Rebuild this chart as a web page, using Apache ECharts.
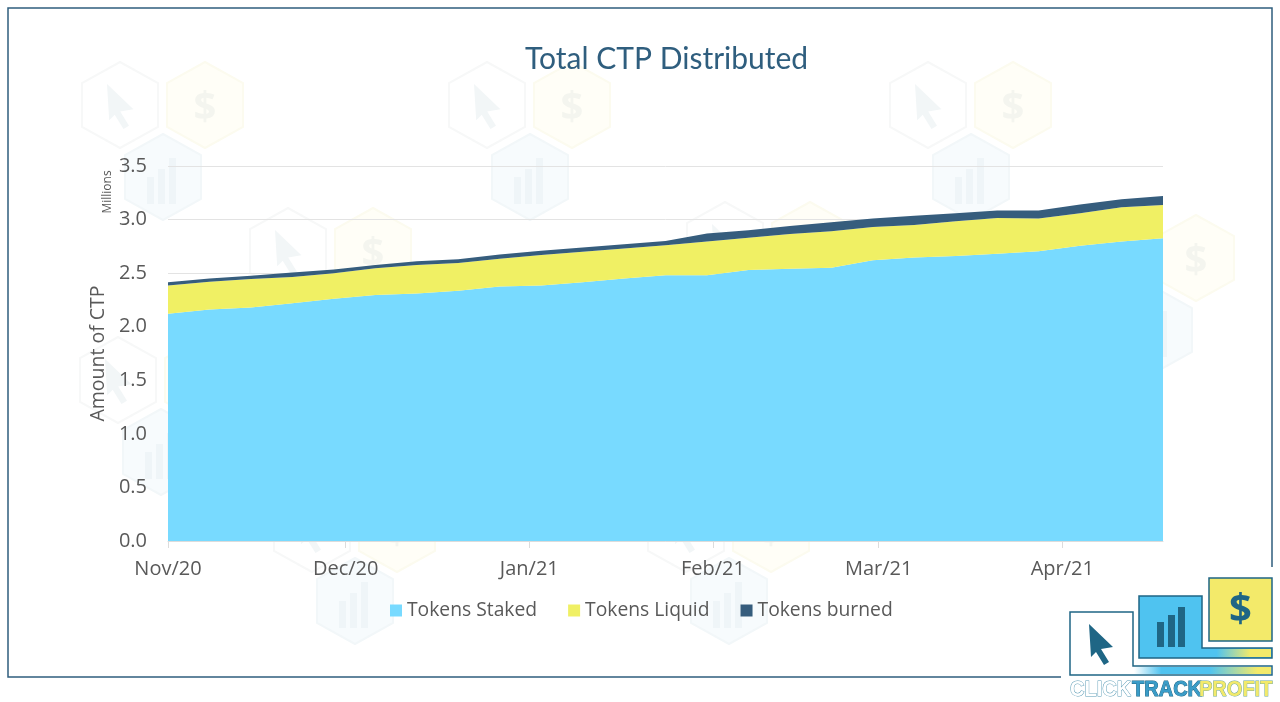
<!DOCTYPE html>
<html>
<head>
<meta charset="utf-8">
<title>Total CTP Distributed</title>
<script src="https://cdn.jsdelivr.net/npm/echarts@6/dist/echarts.min.js"></script>
<style>
  html, body { margin: 0; padding: 0; background: #fff; }
  #main_echarts { width: 1280px; height: 702px; }
</style>
</head>
<body>
<div id="main_echarts"></div>
<script>
// weekly readings, in millions of CTP
var dates = ['2020-11-01', '2020-11-08', '2020-11-15', '2020-11-22', '2020-11-29',
    '2020-12-06', '2020-12-13', '2020-12-20', '2020-12-27', '2021-01-03', '2021-01-10',
    '2021-01-17', '2021-01-24', '2021-01-31', '2021-02-07', '2021-02-14', '2021-02-21',
    '2021-02-28', '2021-03-07', '2021-03-14', '2021-03-21', '2021-03-28', '2021-04-04',
    '2021-04-11', '2021-04-18'];
var staked = [2.12, 2.16, 2.18, 2.22, 2.26, 2.295, 2.31, 2.335, 2.375, 2.385, 2.415, 2.45, 2.48,
    2.48, 2.53, 2.54, 2.55, 2.62, 2.645, 2.66, 2.68, 2.705, 2.755, 2.795, 2.825];
var liquid = [0.265, 0.26, 0.265, 0.245, 0.24, 0.25, 0.265, 0.26, 0.26, 0.285, 0.285, 0.28, 0.28,
    0.315, 0.30, 0.325, 0.34, 0.31, 0.305, 0.325, 0.335, 0.305, 0.305, 0.32, 0.31];
var burned = [0.03, 0.03, 0.03, 0.04, 0.035, 0.03, 0.035, 0.035, 0.04, 0.04, 0.04, 0.04, 0.04,
    0.075, 0.07, 0.075, 0.085, 0.08, 0.085, 0.075, 0.07, 0.075, 0.08, 0.075, 0.085];
var monthTicks = ['2020-11-01', '2020-12-01', '2021-01-01', '2021-02-01', '2021-03-01', '2021-04-01'];

var FONT = '"Open Sans", sans-serif';
var TEAL = '#1f6685';

function toTime(d) {
    var p = d.split('-');
    return new Date(+p[0], +p[1] - 1, +p[2]).getTime();
}
function pairs(values) {
    return values.map(function (v, i) { return [toTime(dates[i]), v]; });
}
function hexPoints(cx, cy) {
    return [[cx, cy - 43], [cx + 38, cy - 22], [cx + 38, cy + 22], [cx, cy + 43], [cx - 38, cy + 22], [cx - 38, cy - 22]];
}
function arrowPoints(x, y, k) {
    return [[0, 0], [24, 23], [12, 25], [20, 38], [15, 41], [7, 28], [2, 33]].map(function (p) {
        return [x + p[0] * k, y + p[1] * k];
    });
}

// faint background logo: cursor, dollar and bars hexagons
function watermark(cx, cy) {
    var out = [];
    out.push({ type: 'polygon', shape: { points: hexPoints(cx, cy) }, style: { fill: '#fff', stroke: '#f7f8f8', lineWidth: 2 } });
    out.push({ type: 'polygon', shape: { points: arrowPoints(cx - 13, cy - 21, 1.1) }, style: { fill: '#f2f6f7' } });
    out.push({ type: 'polygon', shape: { points: hexPoints(cx + 85, cy) }, style: { fill: '#fffef7', stroke: '#fcfbef', lineWidth: 2 } });
    out.push({
        type: 'text', x: cx + 85, y: cy + 4,
        style: { text: '$', font: 'bold 40px ' + FONT, fill: '#f4f5ef', align: 'center', verticalAlign: 'middle' }
    });
    out.push({ type: 'polygon', shape: { points: hexPoints(cx + 43, cy + 72) }, style: { fill: '#f7fbfd', stroke: '#f2f7f9', lineWidth: 2 } });
    [[-16, 0, 7, 27], [-5, -8, 7, 35], [6, -19, 7, 46]].forEach(function (b) {
        out.push({
            type: 'rect',
            shape: { x: cx + 43 + b[0], y: cy + 72 + b[1], width: b[2], height: b[3] },
            style: { fill: '#eff5f8' }
        });
    });
    return out;
}

function logoText(text, x, fill, stroke) {
    return {
        type: 'text', x: x, y: 690,
        scaleX: 0.91,
        style: {
            text: text, font: 'bold 22px "Liberation Sans Narrow", "Liberation Sans", sans-serif',
            fill: fill, stroke: stroke, lineWidth: 1, align: 'left', verticalAlign: 'middle'
        }
    };
}

var bandFill = function (stops) {
    return new echarts.graphic.LinearGradient(0, 0, 1, 0, stops);
};

function logo() {
    var g = [
        { type: 'polygon', shape: { points: [[1070, 612], [1133, 612], [1133, 666], [1272, 666], [1272, 675], [1070, 675]] },
          style: { fill: '#fff', stroke: TEAL, lineWidth: 1.5 } },
        { type: 'rect', shape: { x: 1134, y: 667, width: 137, height: 7 },
          style: { fill: bandFill([{ offset: 0, color: '#fff' }, { offset: 0.2, color: '#4fc3f0' }, { offset: 0.55, color: '#4fc3f0' }, { offset: 0.9, color: '#f3ea6a' }, { offset: 1, color: '#f3ea6a' }]) } },
        { type: 'polygon', shape: { points: [[1139, 596], [1202, 596], [1202, 648], [1272, 648], [1272, 658], [1139, 658]] },
          style: { fill: '#4fc3f0', stroke: TEAL, lineWidth: 1.5 } },
        { type: 'rect', shape: { x: 1203, y: 649, width: 68, height: 8 },
          style: { fill: bandFill([{ offset: 0, color: '#4fc3f0' }, { offset: 0.2, color: '#4fc3f0' }, { offset: 0.7, color: '#f3ea6a' }, { offset: 1, color: '#f3ea6a' }]) } },
        { type: 'rect', shape: { x: 1209, y: 578, width: 63, height: 63 }, style: { fill: '#f3ea6a', stroke: TEAL, lineWidth: 1.5 } },
        { type: 'text', x: 1240.5, y: 611, style: { text: '$', font: 'bold 40px ' + FONT, fill: TEAL, align: 'center', verticalAlign: 'middle' } },
        { type: 'polygon', shape: { points: arrowPoints(1089, 624, 1) }, style: { fill: TEAL } },
        { type: 'rect', shape: { x: 1157, y: 622, width: 7, height: 25 }, style: { fill: TEAL } },
        { type: 'rect', shape: { x: 1168, y: 615, width: 7, height: 32 }, style: { fill: TEAL } },
        { type: 'rect', shape: { x: 1178, y: 607, width: 7, height: 40 }, style: { fill: TEAL } }
    ];
    g.push(logoText('CLICK', 1070, '#fff', '#5a9bb5'));
    g.push(logoText('TRACK', 1132, '#3a9cc8', TEAL));
    g.push(logoText('PROFIT', 1199, '#f3ea6a', '#6fa8a0'));
    return g;
}

var elements = [];
[[120, 105], [487, 105], [928, 105], [288, 251], [725, 245], [1111, 258], [118, 380], [312, 529], [686, 529]].forEach(function (p) {
    elements = elements.concat(watermark(p[0], p[1]));
});
// outer frame
elements.push({
    type: 'polyline',
    shape: { points: [[1272, 567], [1272, 8], [8, 8], [8, 677], [1061, 677]] },
    style: { fill: 'none', stroke: '#2f5e7e', lineWidth: 1.5 }
});
elements = elements.concat(logo());
elements.push({
    type: 'text', x: 108, y: 192, rotation: Math.PI / 2,
    style: { text: 'Millions', font: '12px ' + FONT, fill: '#595959', align: 'center', verticalAlign: 'middle' }
});

function areaSeries(name, values, color) {
    return {
        name: name,
        type: 'line',
        stack: 'total',
        data: pairs(values),
        symbol: 'none',
        smooth: false,
        lineStyle: { width: 0 },
        itemStyle: { color: color },
        areaStyle: { color: color, opacity: 1 },
        animation: false
    };
}

var myChart = echarts.init(document.getElementById('main_echarts'));
myChart.setOption({
    backgroundColor: '#fff',
    animation: false,
    textStyle: { fontFamily: FONT },
    title: {
        text: 'Total CTP Distributed',
        left: 520,
        top: 39,
        textStyle: { color: '#2f5e7e', fontSize: 30, fontWeight: 'normal', fontFamily: 'Lato, sans-serif' }
    },
    graphic: { elements: elements },
    grid: { left: 168, right: 117, top: 166, bottom: 161 },
    legend: {
        left: 385,
        top: 596,
        icon: 'rect',
        itemWidth: 12,
        itemHeight: 12,
        itemGap: 31,
        textStyle: { color: '#595959', fontSize: 19.3, fontFamily: FONT }
    },
    xAxis: {
        type: 'time',
        min: toTime(dates[0]),
        max: toTime(dates[dates.length - 1]),
        axisLine: { lineStyle: { color: '#dcdcdc' } },
        axisTick: { show: true, length: 7, lineStyle: { color: '#dcdcdc' }, customValues: monthTicks.map(toTime) },
        splitLine: { show: false },
        axisLabel: {
            color: '#595959', fontSize: 20, margin: 18, fontFamily: FONT,
            customValues: monthTicks.map(toTime),
            formatter: '{MMM}/{yy}',
            hideOverlap: false
        }
    },
    yAxis: {
        type: 'value',
        min: 0,
        max: 3.5,
        interval: 0.5,
        name: 'Amount of CTP',
        nameLocation: 'middle',
        nameGap: 49,
        nameTextStyle: { color: '#595959', fontSize: 19.5, fontFamily: FONT },
        axisLine: { show: false },
        axisTick: { show: false },
        splitLine: { lineStyle: { color: '#e3e3e3', width: 1 } },
        axisLabel: {
            color: '#595959', fontSize: 20, margin: 21, fontFamily: FONT,
            formatter: function (v) { return v.toFixed(1); }
        }
    },
    series: [
        areaSeries('Tokens Staked', staked, '#78daff'),
        areaSeries('Tokens Liquid', liquid, '#f0f064'),
        areaSeries('Tokens burned', burned, '#365d7d')
    ]
});
</script>
</body>
</html>
